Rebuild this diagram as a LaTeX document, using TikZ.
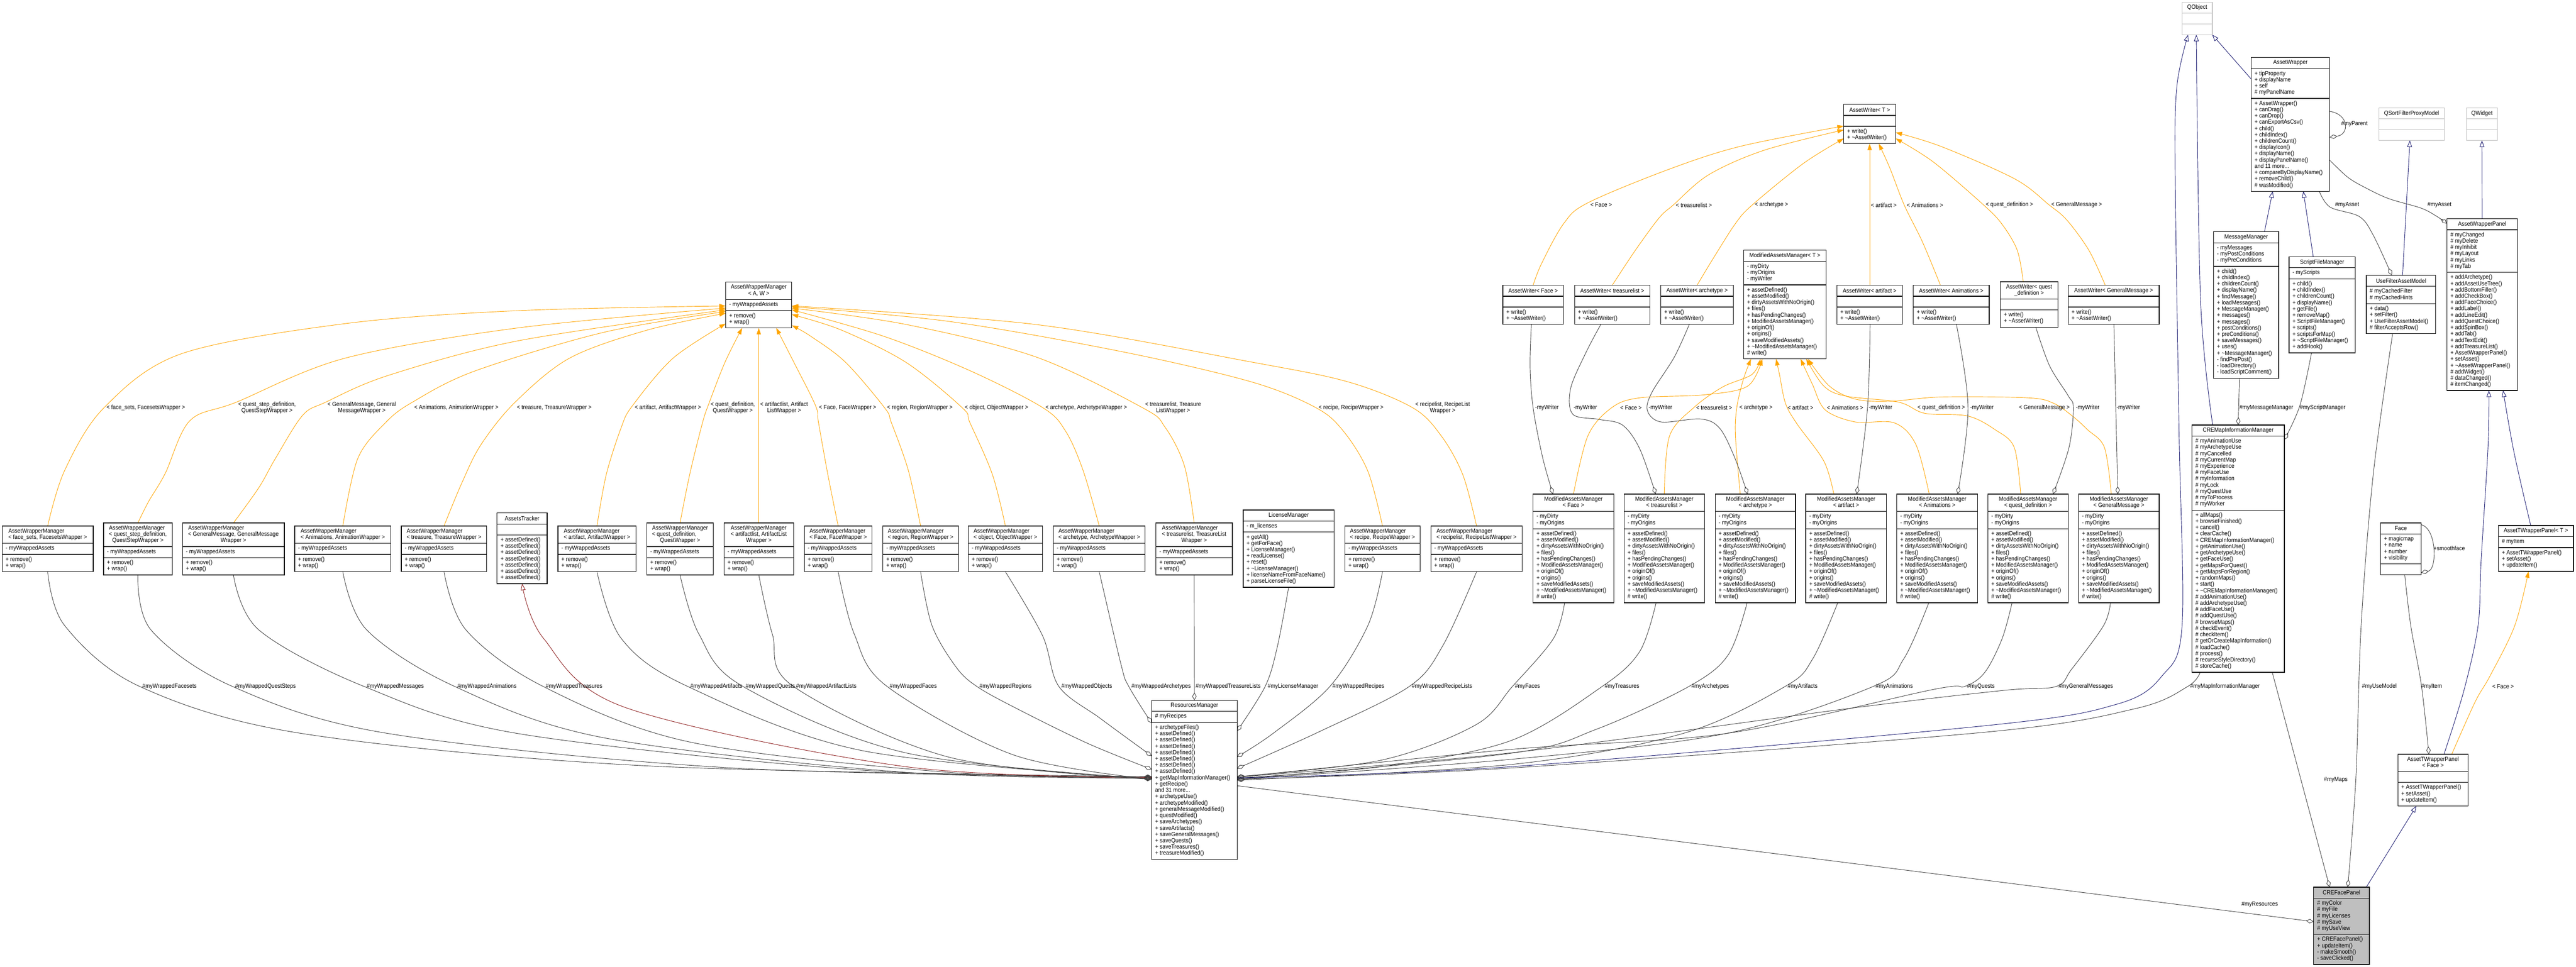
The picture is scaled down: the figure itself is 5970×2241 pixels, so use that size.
\documentclass[tikz,border=0pt]{standalone}
\usepackage{fontspec}
\setmainfont{Liberation Sans}[FakeStretch=0.9]
\usetikzlibrary{arrows.meta,calc}
\pgfdeclarelayer{bg}
\pgfsetlayers{bg,main}
\definecolor{inhc}{HTML}{191970}
\definecolor{tmplc}{HTML}{FFA500}
\definecolor{usec}{HTML}{404040}
\definecolor{privc}{HTML}{8B1A1A}
\definecolor{extc}{HTML}{BFBFBF}
\newcommand\tld{\textasciitilde{}}
\newcommand\TT[2]{\begin{tabular}{@{}l@{}}#1\\\multicolumn{1}{@{}c@{}}{#2}\end{tabular}}
\newcommand\TTT[3]{\begin{tabular}{@{}l@{}}#1\\#2\\\multicolumn{1}{@{}c@{}}{#3}\end{tabular}}
\newcommand\LL[1]{\begin{tabular}{@{}l@{}}#1\end{tabular}}
\def\cF{white}
\newcommand\cls[8]{\def\cN{#1}\def\cX{#2}\def\cY{#3}\def\cW{#4}\def\cA{#5}\def\cB{#6}\def\cC{#7}\def\cD{#8}\clsB}
\newcommand\clsB[3]{%
  \pgfmathsetmacro\hA{ifthenelse(\cA==0,25,11+14.6*\cA)}%
  \pgfmathsetmacro\hB{ifthenelse(\cB==0,25,11+14.6*\cB)}%
  \pgfmathsetmacro\hC{ifthenelse(\cC==0,25,11+14.6*\cC)}%
  \pgfmathsetmacro\yB{\cY+\hA}%
  \pgfmathsetmacro\yC{\yB+\hB}%
  \pgfmathsetmacro\hT{\hA+\hB+\hC}%
  \node[classbox,draw=\cD,fill=\cF,minimum width=\cW pt,minimum height=\hT pt,anchor=north west] (\cN) at (\cX,\cY) {};%
  \draw[sepline,draw=\cD] (\cX,\yB) -- ++(\cW,0) (\cX,\yC) -- ++(\cW,0);%
  \node[txt] (\cN-t) at ({\cX+\cW/2},{\cY+\hA/2}) {#1};%
  \ifnum\cB>0 \node[txt,anchor=west] (\cN-a) at ({\cX+8},{\yB+\hB/2}) {\LL{#2}};\fi
  \ifnum\cC>0 \node[txt,anchor=west] (\cN-m) at ({\cX+8},{\yC+\hC/2}) {\LL{#3}};\fi
}
\newcommand\awm[6]{\cls{#1}{#2}{#3}{#4}{#5}{1}{2}{black}{#6}{- myWrappedAssets}{+ remove()\\+ wrap()}}
\newcommand\awr[4]{\cls{#1}{#2}{661}{#3}{1}{0}{2}{black}{#4}{}{+ write()\\+ \tld AssetWriter()}}
\newcommand\mamMethods{+ assetDefined()\\+ assetModified()\\+ dirtyAssetsWithNoOrigin()\\+ files()\\+ hasPendingChanges()\\+ ModifiedAssetsManager()\\+ originOf()\\+ origins()\\+ saveModifiedAssets()\\+ \tld ModifiedAssetsManager()\\\# write()}
\newcommand\mam[4]{\cls{#1}{#2}{1145}{#3}{2}{2}{11}{black}{\TT{ModifiedAssetsManager}{#4}}{- myDirty\\- myOrigins}{\mamMethods}}
\tikzset{
 classbox/.style={line width=1.5pt,inner sep=0pt,outer sep=0pt},
 sepline/.style={line width=1.5pt},
 txt/.style={inner sep=0pt,outer sep=0pt},
 lbl/.style={inner sep=0pt,outer sep=0pt,align=center,anchor=west},
 cline/.style={line width=1.1pt,line join=round},
 inh/.style={cline,draw=inhc,-{Triangle[open,length=15pt,width=11pt]}},
 prv/.style={cline,draw=privc,-{Triangle[open,length=15pt,width=11pt]}},
 tmpl/.style={cline,draw=tmplc,-{Triangle[length=15pt,width=10pt]}},
 comp/.style={cline,draw=usec,-{Diamond[open,length=18pt,width=10pt]}},
}
\begin{document}
\begin{tikzpicture}[x=1pt,y=-1pt,font=\fontsize{14}{14.6}\selectfont]
\useasboundingbox (0,0) rectangle (5970,2241);
\begin{pgfonlayer}{bg}\fill[white] (0,0) rectangle (5970,2241);\end{pgfonlayer}
% ---------------- classes
\cls{awAW}{1682}{654}{153}{2}{1}{2}{black}{\TT{AssetWrapperManager}{< A, W >}}{- myWrappedAssets}{+ remove()\\+ wrap()}
\awm{awm1}{5}{1219}{211}{2}{\TT{AssetWrapperManager}{< face\_sets, FacesetsWrapper >}}
\awm{awm2}{240}{1212}{159}{3}{\TTT{AssetWrapperManager}{< quest\_step\_definition,}{QuestStepWrapper >}}
\awm{awm3}{423}{1212}{236}{3}{\TTT{AssetWrapperManager}{< GeneralMessage, GeneralMessage}{Wrapper >}}
\awm{awm4}{683}{1219}{223}{2}{\TT{AssetWrapperManager}{< Animations, AnimationWrapper >}}
\awm{awm5}{930}{1219}{198}{2}{\TT{AssetWrapperManager}{< treasure, TreasureWrapper >}}
\cls{tracker}{1152}{1189}{116}{1}{0}{7}{black}{AssetsTracker}{}{+ assetDefined()\\+ assetDefined()\\+ assetDefined()\\+ assetDefined()\\+ assetDefined()\\+ assetDefined()\\+ assetDefined()}
\awm{awm6}{1293}{1219}{181}{2}{\TT{AssetWrapperManager}{< artifact, ArtifactWrapper >}}
\awm{awm7}{1499}{1212}{154}{3}{\TTT{AssetWrapperManager}{< quest\_definition,}{QuestWrapper >}}
\awm{awm8}{1678}{1212}{161}{3}{\TTT{AssetWrapperManager}{< artifactlist, ArtifactList}{Wrapper >}}
\awm{awm9}{1864}{1219}{157}{2}{\TT{AssetWrapperManager}{< Face, FaceWrapper >}}
\awm{awm10}{2046}{1219}{175}{2}{\TT{AssetWrapperManager}{< region, RegionWrapper >}}
\awm{awm11}{2244}{1219}{172}{2}{\TT{AssetWrapperManager}{< object, ObjectWrapper >}}
\awm{awm12}{2441}{1219}{213}{2}{\TT{AssetWrapperManager}{< archetype, ArchetypeWrapper >}}
\awm{awm13}{2679}{1212}{177}{3}{\TTT{AssetWrapperManager}{< treasurelist, TreasureList}{Wrapper >}}
\cls{license}{2881}{1182}{211}{1}{1}{8}{black}{LicenseManager}{- m\_licenses}{+ getAll()\\+ getForFace()\\+ LicenseManager()\\+ readLicense()\\+ reset()\\+ \tld LicenseManager()\\+ licenseNameFromFaceName()\\+ parseLicenseFile()}
\awm{awm14}{3117}{1219}{174}{2}{\TT{AssetWrapperManager}{< recipe, RecipeWrapper >}}
\awm{awm15}{3316}{1219}{212}{2}{\TT{AssetWrapperManager}{< recipelist, RecipeListWrapper >}}
\cls{awT}{4273}{242}{120}{1}{0}{2}{black}{AssetWriter< T >}{}{+ write()\\+ \tld AssetWriter()}
\awr{awFace}{3483}{140}{AssetWriter< Face >}
\awr{awTl}{3649}{175}{AssetWriter< treasurelist >}
\awr{awArch}{3849}{168}{AssetWriter< archetype >}
\cls{mamT}{4041}{580}{191}{1}{3}{11}{black}{ModifiedAssetsManager< T >}{- myDirty\\- myOrigins\\- myWriter}{\mamMethods}
\awr{awArt}{4257}{152}{AssetWriter< artifact >}
\awr{awAnim}{4434}{176}{AssetWriter< Animations >}
\cls{awQd}{4636}{653}{133}{2}{0}{2}{black}{\TT{AssetWriter< quest}{\_definition >}}{}{+ write()\\+ \tld AssetWriter()}
\awr{awGm}{4793}{211}{AssetWriter< GeneralMessage >}
\mam{mamFace}{3553}{187}{< Face >}
\mam{mamTl}{3764}{186}{< treasurelist >}
\mam{mamArch}{3975}{186}{< archetype >}
\mam{mamArt}{4185}{187}{< artifact >}
\mam{mamAnim}{4396}{187}{< Animations >}
\mam{mamQd}{4607}{186}{< quest\_definition >}
\mam{mamGm}{4817}{187}{< GeneralMessage >}
\cls{qobject}{5057}{5}{70}{1}{0}{0}{extc}{QObject}{}{}
\cls{aw}{5217}{133}{182}{1}{4}{14}{black}{AssetWrapper}{+ tipProperty\\+ displayName\\+ self\\\# myPanelName}{+ AssetWrapper()\\+ canDrag()\\+ canDrop()\\+ canExportAsCsv()\\+ child()\\+ childIndex()\\+ childrenCount()\\+ displayIcon()\\+ displayName()\\+ displayPanelName()\\and 11 more...\\+ compareByDisplayName()\\+ removeChild()\\\# wasModified()}
\cls{qsfpm}{5513}{250}{152}{1}{0}{0}{extc}{QSortFilterProxyModel}{}{}
\cls{qwidget}{5716}{250}{72}{1}{0}{0}{extc}{QWidget}{}{}
\cls{msgmgr}{5130}{537}{151}{1}{3}{17}{black}{MessageManager}{- myMessages\\- myPostConditions\\- myPreConditions}{+ child()\\+ childIndex()\\+ childrenCount()\\+ displayName()\\+ findMessage()\\+ loadMessages()\\+ MessageManager()\\+ messages()\\+ messages()\\+ postConditions()\\+ preConditions()\\+ saveMessages()\\+ uses()\\+ \tld MessageManager()\\- findPrePost()\\- loadDirectory()\\- loadScriptComment()}
\cls{sfm}{5305}{595}{153}{1}{1}{11}{black}{ScriptFileManager}{- myScripts}{+ child()\\+ childIndex()\\+ childrenCount()\\+ displayName()\\+ getFile()\\+ removeMap()\\+ ScriptFileManager()\\+ scripts()\\+ scriptsForMap()\\+ \tld ScriptFileManager()\\+ addHook()}
\cls{ufam}{5484}{638}{161}{1}{2}{4}{black}{UseFilterAssetModel}{\# myCachedFilter\\\# myCachedHints}{+ data()\\+ setFilter()\\+ UseFilterAssetModel()\\\# filterAcceptsRow()}
\cls{awpanel}{5671}{507}{163}{1}{6}{18}{black}{AssetWrapperPanel}{\# myChanged\\\# myDelete\\\# myInhibit\\\# myLayout\\\# myLinks\\\# myTab}{+ addArchetype()\\+ addAssetUseTree()\\+ addBottomFiller()\\+ addCheckBox()\\+ addFaceChoice()\\+ addLabel()\\+ addLineEdit()\\+ addQuestChoice()\\+ addSpinBox()\\+ addTab()\\+ addTextEdit()\\+ addTreasureList()\\+ AssetWrapperPanel()\\+ setAsset()\\+ \tld AssetWrapperPanel()\\\# addWidget()\\\# dataChanged()\\\# itemChanged()}
\cls{cremim}{5080}{985}{214}{1}{11}{25}{black}{CREMapInformationManager}{\# myAnimationUse\\\# myArchetypeUse\\\# myCancelled\\\# myCurrentMap\\\# myExperience\\\# myFaceUse\\\# myInformation\\\# myLock\\\# myQuestUse\\\# myToProcess\\\# myWorker}{+ allMaps()\\+ browseFinished()\\+ cancel()\\+ clearCache()\\+ CREMapInformationManager()\\+ getAnimationUse()\\+ getArchetypeUse()\\+ getFaceUse()\\+ getMapsForQuest()\\+ getMapsForRegion()\\+ randomMaps()\\+ start()\\+ \tld CREMapInformationManager()\\\# addAnimationUse()\\\# addArchetypeUse()\\\# addFaceUse()\\\# addQuestUse()\\\# browseMaps()\\\# checkEvent()\\\# checkItem()\\\# getOrCreateMapInformation()\\\# loadCache()\\\# process()\\\# recurseStyleDirectory()\\\# storeCache()}
\cls{face}{5517}{1212}{94}{1}{4}{0}{black}{Face}{+ magicmap\\+ name\\+ number\\+ visibility}{}
\cls{atwpT}{5790}{1218}{174}{1}{1}{3}{black}{AssetTWrapperPanel< T >}{\# myItem}{+ AssetTWrapperPanel()\\+ setAsset()\\+ updateItem()}
\cls{atwpF}{5557}{1748}{163}{2}{0}{3}{black}{\TT{AssetTWrapperPanel}{< Face >}}{}{+ AssetTWrapperPanel()\\+ setAsset()\\+ updateItem()}
\cls{rm}{2669}{1623}{198}{1}{1}{21}{black}{ResourcesManager}{\# myRecipes}{+ archetypeFiles()\\+ assetDefined()\\+ assetDefined()\\+ assetDefined()\\+ assetDefined()\\+ assetDefined()\\+ assetDefined()\\+ assetDefined()\\+ getMapInformationManager()\\+ getRecipe()\\and 31 more...\\+ archetypeUse()\\+ archetypeModified()\\+ generalMessageModified()\\+ questModified()\\+ saveArchetypes()\\+ saveArtifacts()\\+ saveGeneralMessages()\\+ saveQuests()\\+ saveTreasures()\\+ treasureModified()}
\def\cF{extc}
\cls{cfp}{5362}{2056}{129}{1}{5}{4}{black}{CREFacePanel}{\# myColor\\\# myFile\\\# myLicenses\\\# mySave\\\# myUseView}{+ CREFacePanel()\\+ updateItem()\\- makeSmooth()\\- saveClicked()}
\def\cF{white}
% ---------------- connectors
\begin{pgfonlayer}{bg}
% AssetWrapperManager<A,W> instances
\coordinate (a1) at ($(awAW.north west)+(0,55)$);
\coordinate (a2) at ($(awAW.north west)+(0,60)$);
\coordinate (a3) at ($(awAW.north west)+(0,64)$);
\coordinate (a4) at ($(awAW.north west)+(0,68)$);
\coordinate (a5) at ($(awAW.north west)+(0,72)$);
\coordinate (a6) at ($(awAW.north west)+(0,96)$);
\coordinate (a7) at ($(awAW.south west)+(38,0)$);
\coordinate (a9) at ($(awAW.south west)+(117,0)$);
\coordinate (a10) at ($(awAW.north east)+(0,100)$);
\coordinate (a11) at ($(awAW.north east)+(0,75)$);
\coordinate (a12) at ($(awAW.north east)+(0,64)$);
\coordinate (a13) at ($(awAW.north east)+(0,60)$);
\coordinate (a14) at ($(awAW.north east)+(0,57)$);
\coordinate (a15) at ($(awAW.north east)+(0,55)$);
\draw[tmpl] plot[smooth,tension=.55] coordinates {(awm1.north) (150,1090) (241,945) (420,820) (800,750) (1200,720) (a1)};
\draw[tmpl] plot[smooth,tension=.55] coordinates {(awm2.north) (344,1163) (383,1097) (440,975) (548,932) (800,830) (1200,760) (a2)};
\draw[tmpl] plot[smooth,tension=.55] coordinates {(awm3.north) (600,1130) (638,1063) (701,963) (755,932) (900,870) (1200,790) (a3)};
\draw[tmpl] plot[smooth,tension=.55] coordinates {(awm4.north) (829,1063) (893,980) (956,932) (1100,860) (1400,770) (a4)};
\draw[tmpl] plot[smooth,tension=.55] coordinates {(awm5.north) (1070,1120) (1115,1030) (1194,932) (1320,830) (1500,765) (a5)};
\draw[tmpl] plot[smooth,tension=.55] coordinates {(awm6.north) (1405,1100) (1440,990) (1466,940) (1560,830) (a6)};
\draw[tmpl] plot[smooth,tension=.55] coordinates {(awm7.north) (1599,1097) (1628,980) (1643,935) (1680,840) (a7)};
\draw[tmpl] (awm8.north) -- (awAW.south);
\draw[tmpl] plot[smooth,tension=.55] coordinates {(awm9.north) (1918,1097) (1897,980) (1890,940) (1840,840) (a9)};
\draw[tmpl] plot[smooth,tension=.55] coordinates {(awm10.north) (2105,1090) (2066,980) (2050,945) (1960,840) (1880,780) (a10)};
\draw[tmpl] plot[smooth,tension=.55] coordinates {(awm11.north) (2300,1100) (2248,980) (2230,945) (2100,840) (1950,765) (a11)};
\draw[tmpl] plot[smooth,tension=.55] coordinates {(awm12.north) (2510,1090) (2470,1000) (2417,945) (2250,860) (2050,780) (a12)};
\draw[tmpl] plot[smooth,tension=.55] coordinates {(awm13.north) (2745,1080) (2700,990) (2648,945) (2400,827) (2100,752) (a13)};
\draw[tmpl] plot[smooth,tension=.55] coordinates {(awm14.north) (3170,1092) (3114,1000) (3050,945) (2900,885) (2600,815) (2200,745) (a14)};
\draw[tmpl] plot[smooth,tension=.55] coordinates {(awm15.north) (3390,1100) (3340,1010) (3274,945) (3124,885) (2900,839) (2400,752) (a15)};
% AssetWriter<T> instances
\coordinate (t1) at ($(awT.north west)+(0,50)$);
\coordinate (t2) at ($(awT.north west)+(0,59)$);
\coordinate (t3) at ($(awT.north west)+(0,79)$);
\coordinate (t4) at ($(awT.south west)+(60,0)$);
\coordinate (t5) at ($(awT.south west)+(81,0)$);
\coordinate (t6) at ($(awT.north east)+(0,79)$);
\coordinate (t7) at ($(awT.north east)+(0,65)$);
\coordinate (s5) at ($(awAnim.north west)+(63,0)$);
\coordinate (s6) at ($(awQd.north west)+(53,0)$);
\coordinate (s7) at ($(awGm.north west)+(86,0)$);
\draw[tmpl] plot[smooth,tension=.55] coordinates {(awFace.north) (3573,610) (3624,518) (3680,470) (3866,393) (4034,339) (t1)};
\draw[tmpl] plot[smooth,tension=.55] coordinates {(awTl.north) (3790,580) (3845,505) (3878,475) (3960,405) (4089,348) (t2)};
\draw[tmpl] plot[smooth,tension=.55] coordinates {(awArch.north) (3971,598) (4022,518) (4061,475) (4179,379) (t3)};
\draw[tmpl] (awArt.north) -- (t4);
\draw[tmpl] plot[smooth,tension=.55] coordinates {(s5) (4455,560) (4413,475) (4380,390) (t5)};
\draw[tmpl] plot[smooth,tension=.55] coordinates {(s6) (4675,580) (4640,520) (4597,475) (4480,375) (t6)};
\draw[tmpl] plot[smooth,tension=.55] coordinates {(s7) (4841,580) (4790,510) (4749,475) (4670,415) (4500,340) (t7)};
% ModifiedAssetsManager<T> instances
\coordinate (m1) at ($(mamT.south west)+(43,0)$);
\coordinate (m2) at ($(mamT.south west)+(39,0)$);
\coordinate (m3) at ($(mamT.south west)+(17,0)$);
\coordinate (m4) at ($(mamT.south west)+(75,0)$);
\coordinate (m5) at ($(mamT.south west)+(132,0)$);
\coordinate (m6) at ($(mamT.south west)+(145,0)$);
\coordinate (m7) at ($(mamT.south west)+(149,0)$);
\coordinate (n3) at ($(mamArch.north west)+(58,0)$);
\coordinate (n4) at ($(mamArt.north west)+(65,0)$);
\coordinate (n5) at ($(mamAnim.north west)+(75,0)$);
\coordinate (n6) at ($(mamQd.north west)+(76,0)$);
\coordinate (n7) at ($(mamGm.north west)+(76,0)$);
\draw[tmpl] plot[smooth,tension=.55] coordinates {(mamFace.north) (3680,1010) (3735,945) (3800,922) (3950,915) (4050,895) (m1)};
\draw[tmpl] plot[smooth,tension=.55] coordinates {(mamTl.north) (3869,1011) (3925,945) (3992,897) (4060,868) (m2)};
\draw[tmpl] plot[smooth,tension=.55] coordinates {(n3) (4022,1011) (4025,945) (4040,880) (m3)};
\draw[tmpl] plot[smooth,tension=.55] coordinates {(n4) (4227,1069) (4165,983) (4138,935) (4124,868) (m4)};
\draw[tmpl] plot[smooth,tension=.55] coordinates {(n5) (4440,1030) (4390,980) (4300,978) (4230,950) (4200,890) (m5)};
\draw[tmpl] plot[smooth,tension=.55] coordinates {(n6) (4668,1037) (4624,996) (4560,964) (4461,958) (4400,932) (4278,918) (4227,895) (m6)};
\draw[tmpl] plot[smooth,tension=.55] coordinates {(n7) (4877,1037) (4838,996) (4805,966) (4760,935) (4700,922) (4500,920) (4380,930) (4300,925) (4240,895) (m7)};
% -myWriter
\coordinate (w1a) at ($(awFace.south west)+(66,0)$);   \coordinate (w1b) at ($(mamFace.north west)+(46,0)$);
\coordinate (w2a) at ($(awTl.south west)+(61,0)$);     \coordinate (w2b) at ($(mamTl.north west)+(73,0)$);
\coordinate (w3a) at ($(awArch.south west)+(66,0)$);   \coordinate (w3b) at ($(mamArch.north west)+(75,0)$);
\coordinate (w4a) at ($(awArt.south west)+(77,0)$);    \coordinate (w4b) at ($(mamArt.north west)+(118,0)$);
\coordinate (w5a) at ($(awAnim.south west)+(100,0)$);  \coordinate (w5b) at ($(mamAnim.north west)+(141,0)$);
\coordinate (w6a) at ($(awQd.south west)+(82,0)$);     \coordinate (w6b) at ($(mamQd.north west)+(151,0)$);
\coordinate (w7a) at ($(awGm.south west)+(106,0)$);    \coordinate (w7b) at ($(mamGm.north west)+(91,0)$);
\draw[comp] plot[smooth,tension=.55] coordinates {(w1a) (3546,850) (3553,945) (3575,1060) (w1b)};
\draw[comp] plot[smooth,tension=.55] coordinates {(w2a) (3676,816) (3640,900) (3645,960) (3706,972) (3760,985) (3800,1040) (w2b)};
\draw[comp] plot[smooth,tension=.55] coordinates {(w3a) (3880,828) (3828,910) (3818,952) (3850,978) (3941,971) (3985,992) (4020,1060) (w3b)};
\draw[comp] plot[smooth,tension=.55] coordinates {(w4a) (4328,945) (w4b)};
\draw[comp] plot[smooth,tension=.55] coordinates {(w5a) (4561,945) (w5b)};
\draw[comp] plot[smooth,tension=.55] coordinates {(w6a) (4750,848) (4793,917) (4805,945) (4795,1037) (w6b)};
\draw[comp] (w7a) -- (w7b);
% into ResourcesManager, right side
\coordinate (r177) at ($(rm.north east)+(0,177)$);
\coordinate (r178) at ($(rm.north east)+(0,178)$);
\coordinate (r180) at ($(rm.north east)+(0,180)$);
\coordinate (r183) at ($(rm.north east)+(0,183)$);
\coordinate (r185) at ($(rm.north east)+(0,185)$);
\coordinate (r71) at ($(rm.north east)+(0,71)$);
\coordinate (r131) at ($(rm.north east)+(0,131)$);
\coordinate (r158) at ($(rm.north east)+(0,158)$);
\coordinate (r198) at ($(rm.north east)+(0,198)$);
\coordinate (b1) at ($(mamFace.south west)+(73,0)$);
\coordinate (b2) at ($(mamTl.south west)+(74,0)$);
\coordinate (b3) at ($(mamArch.south west)+(74,0)$);
\coordinate (b4) at ($(mamArt.south west)+(74,0)$);
\coordinate (b5) at ($(mamAnim.south west)+(74,0)$);
\coordinate (b6) at ($(mamQd.south west)+(56,0)$);
\coordinate (b7) at ($(mamGm.south west)+(74,0)$);
\coordinate (b8) at ($(cremim.south west)+(19,0)$);
\draw[comp] plot[smooth,tension=.55] coordinates {(b1) (3600,1480) (3505,1591) (3420,1680) (3200,1762) (r177)};
\draw[comp] plot[smooth,tension=.55] coordinates {(b2) (3800,1510) (3713,1591) (3500,1717) (3200,1777) (r180)};
\draw[comp] plot[smooth,tension=.55] coordinates {(b3) (4005,1518) (3914,1591) (3700,1690) (3500,1746) (r183)};
\draw[comp] plot[smooth,tension=.55] coordinates {(b4) (4201,1527) (4137,1591) (3900,1700) (3500,1772) (r185)};
\draw[comp] plot[smooth,tension=.55] coordinates {(b5) (4412,1527) (4341,1591) (4000,1700) (3500,1760) (r183)};
\draw[comp] plot[smooth,tension=.55] coordinates {(b6) (4640,1480) (4600,1558) (4553,1591) (4480,1598) (4000,1700) (3500,1737) (r178)};
\draw[comp] plot[smooth,tension=.55] coordinates {(b7) (4875,1450) (4801,1551) (4765,1591) (4644,1600) (4300,1640) (3500,1745) (r178)};
\draw[comp] plot[smooth,tension=.55] coordinates {(b8) (5070,1591) (4950,1642) (4600,1697) (3500,1780) (r183)};
\coordinate (q1) at ($(qobject.south west)+(14,0)$);
\draw[inh] plot[smooth,tension=.55] coordinates {(r180) (3500,1777) (4600,1682) (4906,1632) (5011,1566) (5057,1450) (5050,1000) (5041,400) (5045,200) (q1)};
\draw[comp] plot[smooth,tension=.55] coordinates {(license.south) (2960,1500) (2932,1591) (r71)};
\draw[comp] plot[smooth,tension=.55] coordinates {(awm14.south) (3170,1450) (3082,1591) (2950,1700) (r131)};
\draw[comp] plot[smooth,tension=.55] coordinates {(awm15.south) (3344,1496) (3266,1591) (3057,1696) (r158)};
% into ResourcesManager, left side
\coordinate (l177) at ($(rm.north west)+(0,177)$);
\coordinate (l178) at ($(rm.north west)+(0,178)$);
\coordinate (l179) at ($(rm.north west)+(0,179)$);
\coordinate (l180) at ($(rm.north west)+(0,180)$);
\coordinate (l181) at ($(rm.north west)+(0,181)$);
\coordinate (l182) at ($(rm.north west)+(0,182)$);
\coordinate (l183) at ($(rm.north west)+(0,183)$);
\coordinate (l160) at ($(rm.north west)+(0,160)$);
\coordinate (l129) at ($(rm.north west)+(0,129)$);
\coordinate (l53) at ($(rm.north west)+(0,53)$);
\coordinate (rtop) at ($(rm.north west)+(99,0)$);
\draw[comp] plot[smooth,tension=.55] coordinates {(awm1.south) (150,1450) (324,1591) (700,1700) (1500,1775) (l177)};
\draw[comp] plot[smooth,tension=.55] coordinates {(awm2.south) (350,1460) (539,1591) (900,1700) (1700,1780) (l178)};
\draw[comp] plot[smooth,tension=.55] coordinates {(awm3.south) (600,1460) (844,1591) (1200,1700) (2000,1785) (l179)};
\draw[comp] plot[smooth,tension=.55] coordinates {(awm4.south) (850,1460) (1054,1591) (1400,1710) (2100,1790) (l180)};
\draw[comp] plot[smooth,tension=.55] coordinates {(awm5.south) (1080,1460) (1259,1591) (1600,1720) (2200,1790) (l181)};
\draw[prv] plot[smooth,tension=.55] coordinates {(l179) (2100,1777) (1450,1640) (1260,1480) (tracker.south)};
\draw[comp] plot[smooth,tension=.55] coordinates {(awm6.south) (1440,1480) (1594,1591) (2000,1740) (l182)};
\draw[comp] plot[smooth,tension=.55] coordinates {(awm7.south) (1620,1470) (1722,1591) (2100,1745) (l182)};
\draw[comp] plot[smooth,tension=.55] coordinates {(awm8.south) (1790,1470) (1839,1591) (2200,1755) (l183)};
\draw[comp] plot[smooth,tension=.55] coordinates {(awm9.south) (1980,1470) (2056,1591) (2350,1750) (l183)};
\draw[comp] plot[smooth,tension=.55] coordinates {(awm10.south) (2160,1450) (2215,1545) (2264,1591) (2358,1643) (2521,1723) (l160)};
\draw[comp] plot[smooth,tension=.55] coordinates {(awm11.south) (2416,1473) (2454,1591) (2550,1665) (l129)};
\draw[comp] plot[smooth,tension=.55] coordinates {(awm12.south) (2598,1540) (2616,1591) (l53)};
\draw[comp] (awm13.south) -- (rtop);
% right-hand cluster
\coordinate (c1) at ($(cremim.north west)+(48,0)$);
\coordinate (q2) at ($(qobject.south west)+(33,0)$);
\coordinate (c2) at ($(aw.north west)+(0,50)$);
\coordinate (mm1) at ($(msgmgr.north west)+(118,0)$);
\coordinate (aw1) at ($(aw.south west)+(50,0)$);
\coordinate (sf1) at ($(sfm.north west)+(56,0)$);
\coordinate (aw2) at ($(aw.south west)+(121,0)$);
\coordinate (uf1) at ($(ufam.north west)+(84,0)$);
\coordinate (qs1) at ($(qsfpm.south west)+(72,0)$);
\coordinate (tT1) at ($(atwpT.north west)+(75,0)$);
\coordinate (ap1) at ($(awpanel.south west)+(130,0)$);
\coordinate (tF1) at ($(atwpF.north west)+(107,0)$);
\coordinate (ap2) at ($(awpanel.south west)+(97,0)$);
\coordinate (cf1) at ($(cfp.north west)+(122,0)$);
\coordinate (tF2) at ($(atwpF.south west)+(43,0)$);
\coordinate (tF3) at ($(atwpF.north west)+(125,0)$);
\coordinate (tT2) at ($(atwpT.south west)+(70,0)$);
\coordinate (mm2) at ($(msgmgr.south west)+(60,0)$);
\coordinate (cr1) at ($(cremim.north west)+(107,0)$);
\coordinate (sf2) at ($(sfm.south west)+(52,0)$);
\coordinate (cr2) at ($(cremim.north east)+(0,34)$);
\coordinate (aw3) at ($(aw.south west)+(158,0)$);
\coordinate (uf2) at ($(ufam.north west)+(59,0)$);
\coordinate (aw4) at ($(aw.north east)+(0,238)$);
\coordinate (ap3) at ($(awpanel.north west)+(0,11)$);
\coordinate (aw5) at ($(aw.north east)+(0,125)$);
\coordinate (aw6) at ($(aw.north east)+(0,185)$);
\coordinate (cr3) at ($(cremim.south west)+(186,0)$);
\coordinate (cf2) at ($(cfp.north west)+(37,0)$);
\coordinate (uf3) at ($(ufam.south west)+(61,0)$);
\coordinate (cf3) at ($(cfp.north west)+(79,0)$);
\coordinate (fc1) at ($(face.south west)+(56,0)$);
\coordinate (tF4) at ($(atwpF.north west)+(72,0)$);
\coordinate (fc2) at ($(face.north east)+(0,4)$);
\coordinate (fc3) at ($(face.south east)+(0,-5)$);
\coordinate (cf4) at ($(cfp.north west)+(0,80)$);
\draw[inh] plot[smooth,tension=.55] coordinates {(c1) (5100,700) (q2)};
\draw[inh] (c2) -- (qobject.south east);
\draw[inh] (mm1) -- (aw1);
\draw[inh] (sf1) -- (aw2);
\draw[inh] (uf1) -- (qs1);
\draw[inh] (awpanel.north) -- (qwidget.south);
\draw[inh] plot[smooth,tension=.55] coordinates {(tT1) (5826,1047) (ap1)};
\draw[inh] plot[smooth,tension=.55] coordinates {(tF1) (5710,1601) (5743,1450) (5750,1300) (5766,1037) (ap2)};
\draw[inh] (cf1) -- (tF2);
\draw[tmpl] plot[smooth,tension=.55] coordinates {(tF3) (5736,1627) (5771,1566) (5828,1450) (tT2)};
\draw[comp] (mm2) -- (cr1);
\draw[comp] plot[smooth,tension=.55] coordinates {(sf2) (5330,940) (cr2)};
\draw[comp] plot[smooth,tension=.55] coordinates {(aw3) (5400,480) (5468,502) (5500,545) (uf2)};
\draw[comp] plot[smooth,tension=.55] coordinates {(aw4) (5440,410) (5478,433) (5535,460) (5610,482) (5645,500) (ap3)};
\draw[comp] (aw5) .. controls (5445,265) and (5445,312) .. (aw6);
\draw[comp] (cr3) -- (cf2);
\draw[comp] plot[smooth,tension=.55] coordinates {(uf3) (5500,1100) (5472,1450) (5460,1800) (cf3)};
\draw[comp] plot[smooth,tension=.55] coordinates {(fc1) (5587,1450) (5612,1591) (tF4)};
\draw[comp] (fc2) .. controls (5648,1225) and (5648,1320) .. (fc3);
\draw[comp] (r198) -- (cf4);
\end{pgfonlayer}
% ---------------- edge labels
\node[lbl] (L1) at (247,945) {< face\_sets, FacesetsWrapper >};
\node[lbl] (L2) at (552,945) {< quest\_step\_definition,\\QuestStepWrapper >};
\node[lbl] (L3) at (759,945) {< GeneralMessage, General\\MessageWrapper >};
\node[lbl] (L4) at (960,945) {< Animations, AnimationWrapper >};
\node[lbl] (L5) at (1198,945) {< treasure, TreasureWrapper >};
\node[lbl] (L6) at (1471,945) {< artifact, ArtifactWrapper >};
\node[lbl] (L7) at (1647,945) {< quest\_definition,\\QuestWrapper >};
\node[lbl] (L8) at (1762,945) {< artifactlist, Artifact\\ListWrapper >};
\node[lbl] (L9) at (1898,945) {< Face, FaceWrapper >};
\node[lbl] (L10) at (2056,945) {< region, RegionWrapper >};
\node[lbl] (L11) at (2236,945) {< object, ObjectWrapper >};
\node[lbl] (L12) at (2423,945) {< archetype, ArchetypeWrapper >};
\node[lbl] (L13) at (2654,945) {< treasurelist, Treasure\\ListWrapper >};
\node[lbl] (L14) at (3056,945) {< recipe, RecipeWrapper >};
\node[lbl] (L15) at (3280,945) {< recipelist, RecipeList\\Wrapper >};
\node[lbl] (U1) at (3686,475) {< Face >};
\node[lbl] (U2) at (3884,475) {< treasurelist >};
\node[lbl] (U3) at (4067,475) {< archetype >};
\node[lbl] (U4) at (4336,475) {< artifact >};
\node[lbl] (U5) at (4419,475) {< Animations >};
\node[lbl] (U6) at (4602,475) {< quest\_definition >};
\node[lbl] (U7) at (4754,475) {< GeneralMessage >};
\node[lbl] (V1) at (3558,945) {-myWriter};
\node[lbl] (V2) at (3647,945) {-myWriter};
\node[lbl] (V3) at (3755,945) {< Face >};
\node[lbl] (V4) at (3821,945) {-myWriter};
\node[lbl] (V5) at (3931,945) {< treasurelist >};
\node[lbl] (V6) at (4031,945) {< archetype >};
\node[lbl] (V7) at (4143,945) {< artifact >};
\node[lbl] (V8) at (4234,945) {< Animations >};
\node[lbl] (V9) at (4331,945) {-myWriter};
\node[lbl] (V10) at (4444,945) {< quest\_definition >};
\node[lbl] (V11) at (4566,945) {-myWriter};
\node[lbl] (V12) at (4679,945) {< GeneralMessage >};
\node[lbl] (V13) at (4811,945) {-myWriter};
\node[lbl] (V14) at (4905,945) {-myWriter};
\node[lbl] (V15) at (5190,945) {\#myMessageManager};
\node[lbl] (V16) at (5330,945) {\#myScriptManager};
\node[lbl] (B1) at (330,1591) {\#myWrappedFacesets};
\node[lbl] (B2) at (545,1591) {\#myWrappedQuestSteps};
\node[lbl] (B3) at (850,1591) {\#myWrappedMessages};
\node[lbl] (B4) at (1060,1591) {\#myWrappedAnimations};
\node[lbl] (B5) at (1265,1591) {\#myWrappedTreasures};
\node[lbl] (B6) at (1600,1591) {\#myWrappedArtifacts};
\node[lbl] (B7) at (1728,1591) {\#myWrappedQuests};
\node[lbl] (B8) at (1845,1591) {\#myWrappedArtifactLists};
\node[lbl] (B9) at (2062,1591) {\#myWrappedFaces};
\node[lbl] (B10) at (2270,1591) {\#myWrappedRegions};
\node[lbl] (B11) at (2460,1591) {\#myWrappedObjects};
\node[lbl] (B12) at (2622,1591) {\#myWrappedArchetypes};
\node[lbl] (B13) at (2771,1591) {\#myWrappedTreasureLists};
\node[lbl] (B14) at (2938,1591) {\#myLicenseManager};
\node[lbl] (B15) at (3088,1591) {\#myWrappedRecipes};
\node[lbl] (B16) at (3272,1591) {\#myWrappedRecipeLists};
\node[lbl] (B17) at (3511,1591) {\#myFaces};
\node[lbl] (B18) at (3719,1591) {\#myTreasures};
\node[lbl] (B19) at (3920,1591) {\#myArchetypes};
\node[lbl] (B20) at (4143,1591) {\#myArtifacts};
\node[lbl] (B21) at (4347,1591) {\#myAnimations};
\node[lbl] (B22) at (4559,1591) {\#myQuests};
\node[lbl] (B23) at (4771,1591) {\#myGeneralMessages};
\node[lbl] (B24) at (5076,1591) {\#myMapInformationManager};
\node[lbl] (B25) at (5474,1591) {\#myUseModel};
\node[lbl] (B26) at (5611,1591) {\#myItem};
\node[lbl] (B27) at (5776,1591) {< Face >};
\node[lbl] (X1) at (5426,287) {\#myParent};
\node[lbl] (X2) at (5412,475) {\#myAsset};
\node[lbl] (X3) at (5626,475) {\#myAsset};
\node[lbl] (X4) at (5640,1271) {+smoothface};
\node[lbl] (X5) at (5386,1807) {\#myMaps};
\node[lbl] (X6) at (5195,2096) {\#myResources};
\end{tikzpicture}
\end{document}
